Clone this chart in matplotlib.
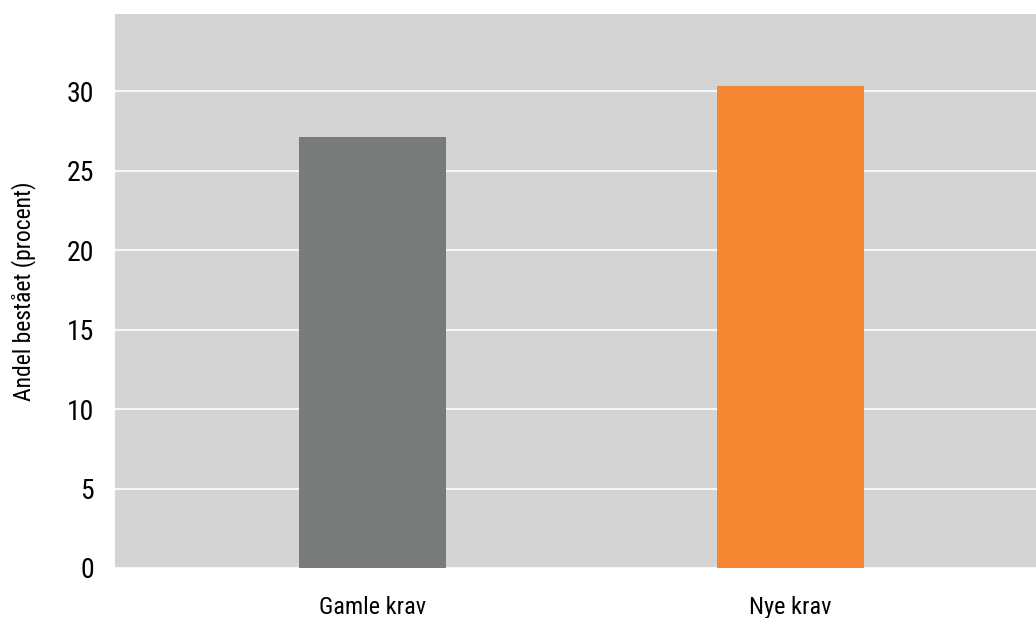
import matplotlib
matplotlib.use("Agg")
import matplotlib.pyplot as plt

kategorier = ["Gamle krav", "Nye krav"]
andel = [27.1, 30.3]
farver = ["#787b7b", "#f58733"]
yticks = [0, 5, 10, 15, 20, 25, 30]

plt.rcParams['font.family'] = ['Roboto Condensed', 'DejaVu Sans']
plt.rcParams['font.stretch'] = 'condensed'

fig = plt.figure(figsize=(10.36, 6.18), dpi=100)
ax = fig.add_axes([115 / 1036, 1 - 568 / 618, (1036 - 115) / 1036, (568 - 14) / 618])
ax.set_facecolor("#d3d4d3")

x = list(range(len(kategorier)))
ax.bar(x, andel, width=0.35, color=farver, zorder=3)

ax.set_ylim(0, 34.85)
ax.set_xlim(-0.616, 1.587)
ax.set_yticks(yticks)
ax.set_yticklabels([str(v) for v in yticks], fontsize=20)
ax.set_xticks(x)
ax.set_xticklabels(kategorier, fontsize=17.5)
ax.yaxis.grid(True, color="white", linewidth=1.2, zorder=1)
ax.tick_params(axis="both", length=0)
ax.tick_params(axis="y", pad=15)
ax.tick_params(axis="x", pad=20)
for s in ax.spines.values():
    s.set_visible(False)

ax.set_ylabel("Andel bestået (procent)", fontsize=17, labelpad=22)

fig.savefig("out.png", dpi=100)
